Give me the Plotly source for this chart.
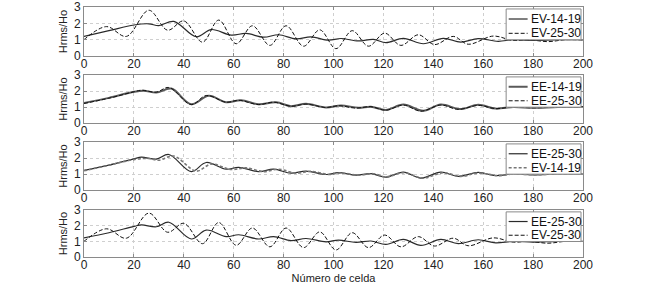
import plotly.graph_objects as go

# EV-25-30 (oscillating series) key points
ev2530_x = [0, 9, 17, 26, 33.5, 40, 47.5, 54, 61, 67.5, 74.5, 81, 88, 94.5, 101, 107.5, 114, 120.5, 127, 134, 140.5, 148, 154, 164, 172, 178, 186, 193, 200]
ev2530_y = [1.0, 1.8, 1.2, 2.8, 1.58, 2.15, 0.85, 2.2, 0.75, 1.85, 0.65, 1.85, 0.6, 1.6, 0.45, 1.55, 0.6, 1.4, 0.65, 1.3, 0.7, 1.2, 0.72, 1.22, 0.95, 1.0, 0.88, 1.0, 0.98]

# EV-14-19
ev1419_x = [0, 10, 20, 26, 30, 36, 45, 51, 59, 65, 72, 78, 85, 91, 98, 103, 110, 116, 121, 128, 136, 144, 151, 158, 166, 172, 180, 190, 200]
ev1419_y = [1.2, 1.55, 1.9, 1.97, 1.86, 2.12, 1.18, 1.62, 1.28, 1.38, 1.15, 1.3, 1.05, 1.17, 0.97, 1.07, 0.92, 1.02, 0.82, 1.08, 0.75, 1.08, 0.85, 1.06, 0.9, 1.0, 0.95, 1.0, 1.0]

# EE-14-19
ee1419_x = [0, 10, 20, 24, 29, 35, 43, 50, 57, 63, 70, 77, 83, 89, 97, 103, 110, 115, 121, 128, 136, 143, 151, 158, 165, 172, 180, 190, 200]
ee1419_y = [1.25, 1.57, 1.95, 2.02, 1.9, 2.15, 1.17, 1.7, 1.3, 1.42, 1.17, 1.3, 1.05, 1.2, 0.97, 1.1, 0.95, 1.02, 0.82, 1.15, 0.76, 1.15, 0.87, 1.14, 0.9, 1.0, 0.95, 1.0, 1.0]

# EE-25-30
ee2530_x = [0, 10, 20, 23, 29, 34, 43, 49, 57, 62, 70, 76, 83, 89, 97, 102, 109, 115, 121, 128, 135, 143, 150, 158, 165, 172, 180, 190, 200]
ee2530_y = [1.22, 1.55, 1.95, 2.05, 1.93, 2.22, 1.15, 1.72, 1.3, 1.42, 1.15, 1.3, 1.05, 1.18, 0.97, 1.08, 0.93, 1.02, 0.8, 1.12, 0.74, 1.12, 0.85, 1.1, 0.9, 1.0, 0.95, 1.0, 1.0]

x_ticks = [0, 20, 40, 60, 80, 100, 120, 140, 160, 180, 200]
y_ticks = [0, 1, 2, 3]
x_title = "Número de celda"
y_title = "Hrms/Ho"

series = {
    "EV-14-19": (ev1419_x, ev1419_y),
    "EV-25-30": (ev2530_x, ev2530_y),
    "EE-14-19": (ee1419_x, ee1419_y),
    "EE-25-30": (ee2530_x, ee2530_y),
}

solid = dict(color="#2a2a2a", width=1.2, dash="solid")
dashed = dict(color="#111111", width=1.0, dash="4px,2px")
gray_solid = dict(color="#5a5a5a", width=2.0, dash="solid")
gray_dash = dict(color="#777777", width=1.6, dash="3px,2px")

panels = [
    [("EV-14-19", solid), ("EV-25-30", dashed)],
    [("EE-14-19", gray_solid), ("EE-25-30", dashed)],
    [("EE-25-30", solid), ("EV-14-19", gray_dash)],
    [("EE-25-30", solid), ("EV-25-30", dashed)],
]

domains = [(0.804, 1.0), (0.536, 0.728), (0.268, 0.46), (0.0, 0.188)]

fig = go.Figure()
ff = "Liberation Sans, Arial, sans-serif"
tickfont = dict(family=ff, size=12, color="#222")
titlefont = dict(family=ff, size=11, color="#222")

shapes = []
annotations = []
for i, pan in enumerate(panels):
    n = i + 1
    xa = "x" if n == 1 else f"x{n}"
    ya = "y" if n == 1 else f"y{n}"
    for name, st in pan:
        xs, ys = series[name]
        fig.add_trace(go.Scatter(x=xs, y=ys, mode="lines", name=name,
                                 line=dict(shape="spline", smoothing=1.0, **st),
                                 xaxis=xa, yaxis=ya, showlegend=False, hoverinfo="skip"))
    axkw = dict(showline=True, linecolor="#8a8a8a", linewidth=1, mirror="ticks",
                ticks="inside", ticklen=3, tickcolor="#8a8a8a",
                showgrid=True, gridcolor="#cfcfcf", griddash="dot", gridwidth=1,
                zeroline=False, tickfont=tickfont, automargin=False)
    fig.layout[("xaxis" if n == 1 else f"xaxis{n}")] = dict(
        domain=[0, 1], range=[0, 200], tickvals=x_ticks, anchor=ya,
        title=dict(text=x_title if n == 4 else "", font=titlefont, standoff=0),
        ticklabelstandoff=-3,
        **axkw)
    fig.layout[("yaxis" if n == 1 else f"yaxis{n}")] = dict(
        domain=list(domains[i]), range=[0, 3], tickvals=y_ticks, anchor=xa,
        title=dict(text=y_title, font=titlefont, standoff=4),
        **axkw)
    # manual legend box
    xr = f"{xa} domain"
    yr = f"{ya} domain"
    shapes.append(dict(type="rect", xref=xr, yref=yr, x0=0.846, x1=0.996, y0=0.33, y1=0.96,
                       fillcolor="white", line=dict(color="#8a8a8a", width=1), layer="above"))
    for k, (name, st) in enumerate(pan):
        yy = 0.755 if k == 0 else 0.463
        shapes.append(dict(type="line", xref=xr, yref=yr, x0=0.851, x1=0.889, y0=yy, y1=yy,
                           line=dict(color=st["color"], width=st["width"], dash=st["dash"]),
                           layer="above"))
        annotations.append(dict(xref=xr, yref=yr, x=0.891, y=yy, text=name, showarrow=False,
                                xanchor="left", yanchor="middle",
                                font=dict(family=ff, size=12, color="#111")))

fig.update_layout(width=645, height=292, margin=dict(l=84, r=62, t=7, b=35),
                  plot_bgcolor="white", paper_bgcolor="white", showlegend=False,
                  shapes=shapes, annotations=annotations)

fig.write_html("out.html", config={"displayModeBar": False},
               post_script="document.body.style.margin='0px';")
